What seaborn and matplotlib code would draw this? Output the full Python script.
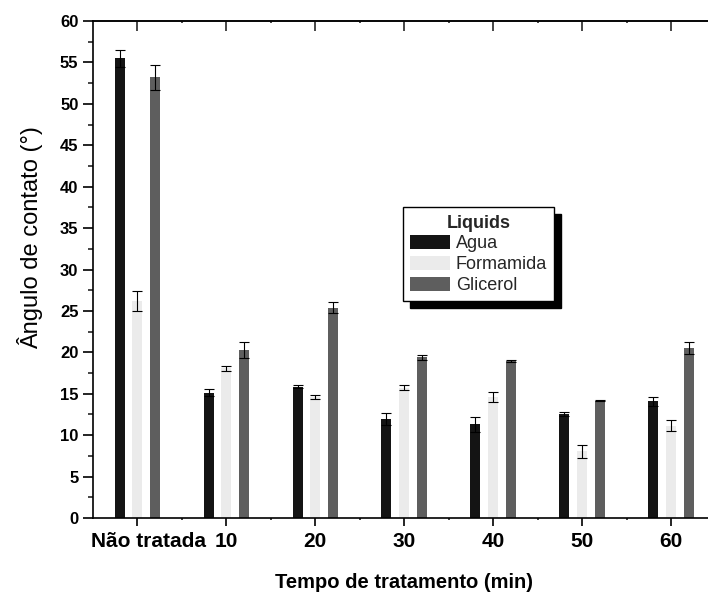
import numpy as np
import pandas as pd
import matplotlib
matplotlib.use("Agg")
import matplotlib.pyplot as plt
import matplotlib.transforms as mtransforms
from matplotlib.ticker import MultipleLocator, FixedLocator
import seaborn as sns

categories = ["Não tratada", "10", "20", "30", "40", "50", "60"]
liquids = ["Agua", "Formamida", "Glicerol"]
agua = [55.5, 15.15, 15.85, 11.92, 11.3, 12.55, 14.1]
agua_err = [1.0, 0.4, 0.2, 0.72, 0.9, 0.2, 0.55]
formamida = [26.2, 18.1, 14.6, 15.75, 14.6, 8.05, 11.15]
formamida_err = [1.2, 0.3, 0.2, 0.25, 0.6, 0.75, 0.65]
glicerol = [53.2, 20.3, 25.4, 19.4, 18.95, 14.15, 20.5]
glicerol_err = [1.5, 0.97, 0.7, 0.3, 0.15, 0.05, 0.7]
colors = ["#141414", "#ebebeb", "#5e5e5e"]

values = [agua, formamida, glicerol]
errors = [agua_err, formamida_err, glicerol_err]

df = pd.DataFrame({
    "Tempo": categories * 3,
    "Liquid": np.repeat(liquids, len(categories)),
    "Angulo": agua + formamida + glicerol,
})

sns.set_theme(style="ticks")
plt.rcParams["font.family"] = ["Liberation Sans", "DejaVu Sans"]

fig = plt.figure(figsize=(7.08, 5.94), dpi=100)
ax = fig.add_axes([93 / 708, 76 / 594, 622.5 / 708, 497 / 594])

sns.barplot(data=df, x="Tempo", y="Angulo", hue="Liquid", order=categories,
            hue_order=liquids, palette=colors, width=0.6, gap=0.44,
            linewidth=0, errorbar=None, saturation=1, ax=ax)

for cont, err in zip(ax.containers, errors):
    xs = [p.get_x() + p.get_width() / 2 for p in cont.patches]
    ys = [p.get_height() for p in cont.patches]
    ax.errorbar(xs, ys, yerr=err, fmt="none", ecolor="black", elinewidth=0.8,
                capsize=3.5, capthick=0.8, zorder=5)

ax.set_xlim(-0.5, 6.5)
ax.set_ylim(0, 60)
ax.yaxis.set_major_locator(MultipleLocator(5))
ax.yaxis.set_minor_locator(MultipleLocator(2.5))
ax.xaxis.set_minor_locator(FixedLocator(np.arange(len(categories)) + 0.5))

for s in ax.spines.values():
    s.set_linewidth(1.2)
    s.set_color("black")
    s.set_visible(True)

ax.tick_params(axis="y", which="major", direction="out", length=7, width=1.2,
               pad=3.5, labelsize=12, colors="black")
ax.tick_params(axis="y", which="minor", direction="out", length=3.5, width=1.2)
ax.tick_params(axis="x", which="major", direction="out", length=6, width=1.2,
               pad=4, labelsize=15, colors="black")
ax.tick_params(axis="x", which="minor", direction="out", length=1.5, width=1.2)
for lab in ax.get_yticklabels():
    lab.set_fontweight("bold")
for lab in ax.get_xticklabels():
    lab.set_fontweight("bold")
xl = ax.get_xticklabels()
offset = mtransforms.ScaledTranslation(8 / 72, 0, fig.dpi_scale_trans)
xl[0].set_transform(xl[0].get_transform() + offset)

secx = ax.secondary_xaxis("top")
secx.set_xticks(range(len(categories)))
secx.xaxis.set_minor_locator(FixedLocator(np.arange(len(categories)) + 0.5))
secx.tick_params(axis="x", which="major", direction="in", length=7, width=1.2,
                 labeltop=False)
secx.tick_params(axis="x", which="minor", direction="in", length=1.5, width=1.2)
secx.spines["top"].set_linewidth(1.2)

secy = ax.secondary_yaxis("right")
secy.yaxis.set_major_locator(MultipleLocator(5))
secy.tick_params(axis="y", which="major", direction="in", length=2.5, width=1.2,
                 labelright=False)
secy.tick_params(axis="y", which="minor", length=0)

ax.set_xlabel("Tempo de tratamento (min)", fontsize=14.5, fontweight="bold",
              labelpad=16, color="black")
ax.set_ylabel("Ângulo de contato (°)", fontsize=17, color="black")
ax.yaxis.set_label_coords(-0.08, (518 - 238) / 497)

leg = ax.legend(title="Liquids", loc="upper left",
                bbox_to_anchor=((402.7 - 93) / 622.5, (518 - 207.3) / 497),
                borderaxespad=0, fancybox=False, frameon=True, fontsize=13,
                title_fontsize=13, handlelength=2.2, handleheight=0.8,
                handletextpad=0.35, labelspacing=0.2, borderpad=0.4,
                shadow={"ox": 5, "oy": -5, "facecolor": "black",
                        "edgecolor": "black", "alpha": 1})
leg.get_title().set_fontweight("bold")
leg.get_frame().set_edgecolor("black")
leg.get_frame().set_linewidth(1.0)
leg.get_frame().set_alpha(1)

fig.savefig("out.png", dpi=100)
